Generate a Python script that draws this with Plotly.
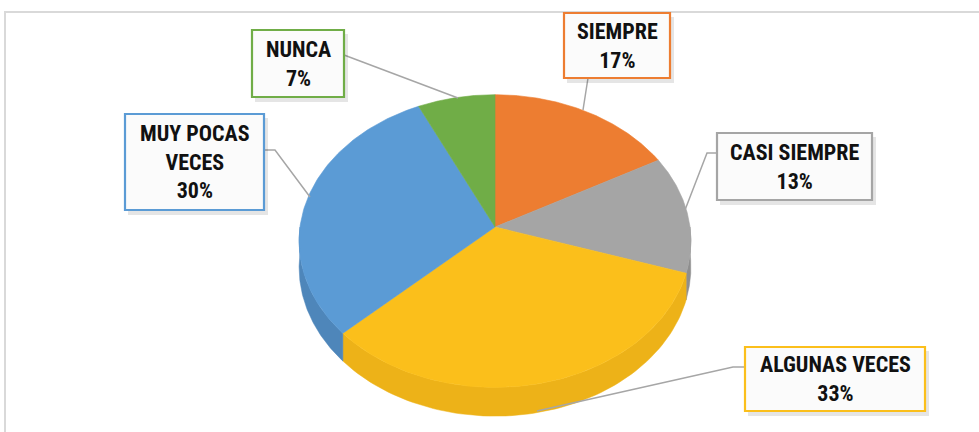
import numpy as np
import plotly.graph_objects as go

# ---- data ----
categories = ["SIEMPRE", "CASI SIEMPRE", "ALGUNAS VECES", "MUY POCAS VECES", "NUNCA"]
values = [17, 13, 33, 30, 7]
label_texts = ["SIEMPRE<br>17%", "CASI SIEMPRE<br>13%", "ALGUNAS VECES<br>33%",
               "MUY POCAS<br>VECES<br>30%", "NUNCA<br>7%"]

# ---- style ----
top_colors = ["#ED7D31", "#A5A5A5", "#FBBF1B", "#5B9BD5", "#70AD47"]
side_colors = ["#C9692A", "#8E8E8E", "#EDB218", "#4E86BA", "#5E923B"]

W, H = 979, 432
CX, CY = 495, 227      # pie centre (pixels)
A, B = 195, 145        # horizontal / vertical radius
K = 0.096              # perspective factor
DEPTH = 26             # thickness of the 3D pie

def proj(t, dz=0.0):
    s = 1.0 / (1.0 + K * np.sin(t))
    x = CX + A * np.cos(t) * s
    y = CY - B * np.sin(t) * s + DEPTH * s * dz
    return x, y

fig = go.Figure()

total = float(sum(values))
start = 90.0
spans = []
for v in values:
    end = start - v / total * 360.0
    spans.append((start, end))
    start = end

# sides (front half only)
for (a, b), col in zip(spans, side_colors):
    lo, hi = max(b, -180.0), min(a, 0.0)
    if hi <= lo:
        continue
    t = np.radians(np.linspace(hi, lo, 80))
    xt, yt = proj(t, 0)
    xb, yb = proj(t[::-1], 1)
    fig.add_trace(go.Scatter(x=np.concatenate([xt, xb, xt[:1]]),
                             y=np.concatenate([yt, yb, yt[:1]]),
                             fill="toself", fillcolor=col, mode="lines",
                             line=dict(width=0.5, color=col), hoverinfo="skip",
                             showlegend=False))

# top faces
for (a, b), col in zip(spans, top_colors):
    t = np.radians(np.linspace(a, b, 120))
    xs, ys = proj(t, 0)
    fig.add_trace(go.Scatter(x=np.concatenate([[CX], xs, [CX]]),
                             y=np.concatenate([[CY], ys, [CY]]),
                             fill="toself", fillcolor=col, mode="lines",
                             line=dict(width=0.6, color=col), hoverinfo="skip",
                             showlegend=False))

# label boxes (pixel rectangles) and leader lines
boxes = [
    (564, 13, 670, 78),
    (717, 133, 872, 200),
    (745, 347, 925, 411),
    (125, 114, 264, 210),
    (252, 30, 344, 97),
]
leaders = [
    [(588, 78), (583, 110)],
    [(717, 153), (707, 153), (685, 210)],
    [(745, 367), (733, 367), (537, 411)],
    [(264, 150), (275, 150), (310, 197)],
    [(344, 55), (458, 98)],
]

shapes = [dict(type="rect", xref="x", yref="y", x0=5, y0=12, x1=995, y1=445,
               line=dict(color="#D9D9D9", width=2), fillcolor="rgba(0,0,0,0)", layer="below")]

for pts in leaders:
    fig.add_trace(go.Scatter(x=[p[0] for p in pts], y=[p[1] for p in pts], mode="lines",
                             line=dict(color="#A6A6A6", width=1.5), hoverinfo="skip",
                             showlegend=False))

annotations = []
for (x0, y0, x1, y1), col, txt in zip(boxes, top_colors, label_texts):
    shapes.append(dict(type="rect", xref="x", yref="y", x0=x0 + 3, y0=y0 + 4, x1=x1 + 4, y1=y1 + 5,
                       line=dict(width=0), fillcolor="rgba(0,0,0,0.10)", layer="above"))
    shapes.append(dict(type="rect", xref="x", yref="y", x0=x0, y0=y0, x1=x1, y1=y1,
                       line=dict(color=col, width=2.2), fillcolor="#FBFBFB", layer="above"))
    annotations.append(dict(x=(x0 + x1) / 2, y=(y0 + y1) / 2, xref="x", yref="y",
                            text="<b>" + txt + "</b>", showarrow=False,
                            xanchor="center", yanchor="middle",
                            font=dict(family="Liberation Sans Narrow, Arial Narrow, Roboto Condensed, Liberation Sans",
                                      size=22, color="#111111")))

fig.update_layout(
    width=W, height=H,
    margin=dict(l=0, r=0, t=0, b=0),
    paper_bgcolor="white", plot_bgcolor="white",
    xaxis=dict(range=[0, W], visible=False, fixedrange=True),
    yaxis=dict(range=[H, 0], visible=False, fixedrange=True),
    shapes=shapes, annotations=annotations,
    showlegend=False,
)

fig.write_html("out.html", config={"displayModeBar": False},
               post_script="document.body.style.margin='0';document.body.style.overflow='hidden';")
